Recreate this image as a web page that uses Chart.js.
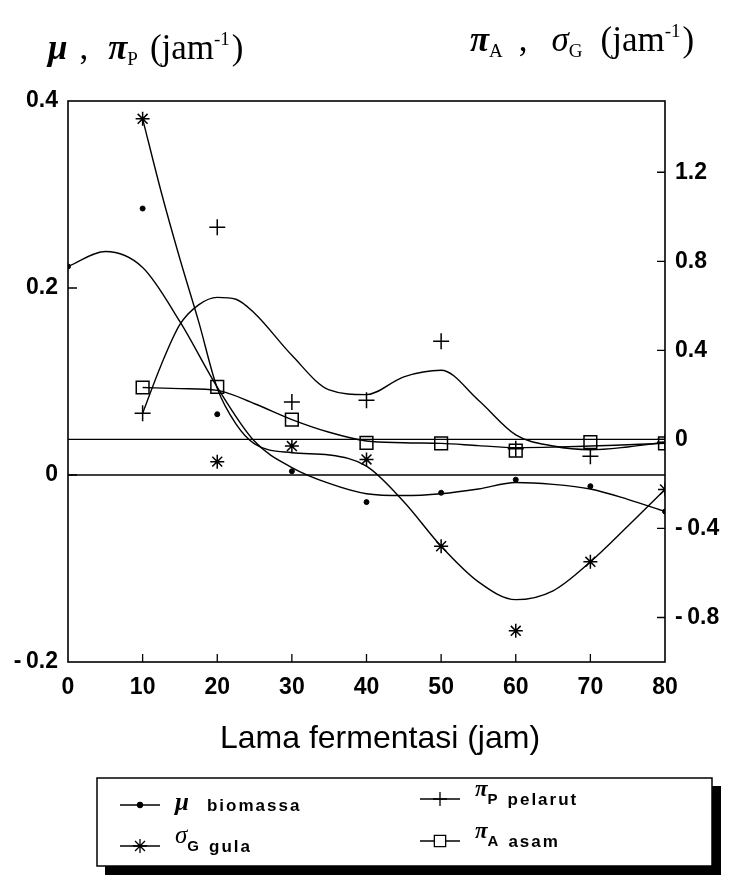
<!DOCTYPE html>
<html>
<head>
<meta charset="utf-8">
<script src="https://cdn.jsdelivr.net/npm/chart.js@4"></script>
<style>
body { margin: 0; background: #fff; }
canvas { display: block; }
</style>
</head>
<body>
<canvas id="myChart" width="736" height="884"></canvas>
<script>
// titik pengamatan
const waktu = [10, 20, 30, 40, 50, 60, 70, 80]
const waktuMu = [0, 10, 20, 30, 40, 50, 60, 70, 80]
const muBiomassa = [0.223, 0.285, 0.065, 0.004, -0.029, -0.019, -0.005, -0.012, -0.039]
const sigmaGula = [1.44, -0.10, -0.03, -0.09, -0.48, -0.86, -0.55, -0.225]
const piPelarut = [0.066, 0.265, 0.078, 0.080, 0.143, 0.028, 0.020, 0.035]
const piAsam = [0.233, 0.236, 0.089, -0.016, -0.018, -0.05, -0.012, -0.018]

// kurva hasil fitting
const kurvaMuX = [0, 5, 10, 15, 20, 25, 30, 35, 40, 45, 50, 55, 60, 65, 70, 75, 80]
const kurvaMu = [0.223, 0.239, 0.222, 0.164, 0.094, 0.036, 0.008, -0.009, -0.02, -0.022, -0.02, -0.015, -0.008, -0.01, -0.015, -0.026, -0.039]
const kurvaSigmaX = [10, 12.5, 15, 17.5, 20, 22.5, 25, 30, 35, 40, 45, 50, 55, 60, 65, 70, 75, 80]
const kurvaSigma = [1.44, 1.11, 0.81, 0.53, 0.23, 0.07, -0.02, -0.06, -0.07, -0.12, -0.28, -0.48, -0.64, -0.72, -0.68, -0.55, -0.39, -0.225]
const kurvaPelarutX = [10, 12.5, 15, 17.5, 20, 22.5, 25, 30, 35, 40, 45, 50, 55, 60, 65, 70, 75, 80]
const kurvaPelarut = [0.066, 0.118, 0.161, 0.182, 0.19, 0.188, 0.173, 0.128, 0.091, 0.086, 0.105, 0.112, 0.08, 0.043, 0.031, 0.027, 0.03, 0.035]
const kurvaAsamX = [10, 15, 20, 25, 30, 35, 40, 45, 50, 55, 60, 65, 70, 75, 80]
const kurvaAsam = [0.233, 0.228, 0.22, 0.16, 0.089, 0.032, -0.007, -0.015, -0.018, -0.028, -0.037, -0.035, -0.03, -0.024, -0.018]

const garisNolX = [0, 80]
const garisNol = [0, 0]

const xTicks = [0, 10, 20, 30, 40, 50, 60, 70, 80]
const leftTicks = [-0.2, 0, 0.2, 0.4]
const rightTicks = [-0.8, -0.4, 0, 0.4, 0.8, 1.2]

const toXY = (xs, ys) => xs.map((x, i) => ({ x: x, y: ys[i] }))
const fmt = v => v === 0 ? '0' : (v < 0 ? '-\u2009' + Math.abs(v).toFixed(1) : v.toFixed(1))

const tickFont = { family: 'Liberation Sans', size: 23, weight: 'bold' }

function titik(data, axis, style, r, bw) {
    return {
        data: data, yAxisID: axis, showLine: false,
        pointStyle: style, pointRadius: r, pointBorderWidth: bw,
        pointBackgroundColor: style === 'circle' ? '#000' : 'rgba(0,0,0,0)',
        pointBorderColor: '#000'
    }
}
function kurva(data, axis) {
    return {
        data: data, yAxisID: axis, showLine: true, pointRadius: 0,
        borderColor: '#000', borderWidth: 1.4, cubicInterpolationMode: 'monotone'
    }
}

// teks berurutan, tiap bagian bisa punya font, geser vertikal dan jarak tambahan
function tulis(ctx, x, y, parts) {
    parts.forEach(p => {
        x += p.gap || 0
        ctx.font = p.font
        ctx.fillText(p.t, x, y + (p.dy || 0))
        x += ctx.measureText(p.t).width
    })
}

const serif = '"Liberation Serif", serif'
const sans = '"Liberation Sans", sans-serif'

const hiasan = {
    id: 'hiasan',
    beforeDraw(chart) {
        const c = chart.ctx
        c.save()
        c.fillStyle = '#fff'
        c.fillRect(0, 0, chart.width, chart.height)
        c.restore()
    },
    afterDraw(chart) {
        const c = chart.ctx
        const a = chart.chartArea
        const sx = chart.scales.x, sy = chart.scales.y, sy1 = chart.scales.y1
        c.save()
        c.strokeStyle = '#000'
        c.fillStyle = '#000'
        c.lineWidth = 1.6
        c.strokeRect(a.left, a.top, a.right - a.left, a.bottom - a.top)

        // tick ke dalam
        c.lineWidth = 1.3
        c.beginPath()
        xTicks.slice(1, -1).forEach(v => {
            const px = sx.getPixelForValue(v)
            c.moveTo(px, a.bottom); c.lineTo(px, a.bottom - 8)
        })
        leftTicks.slice(1, -1).forEach(v => {
            const py = sy.getPixelForValue(v)
            c.moveTo(a.left, py); c.lineTo(a.left + 9, py)
        })
        rightTicks.forEach(v => {
            const py = sy1.getPixelForValue(v)
            c.moveTo(a.right, py); c.lineTo(a.right - 8, py)
        })
        c.stroke()

        // judul sumbu
        c.textBaseline = 'alphabetic'
        c.textAlign = 'left'
        tulis(c, 48, 59, [
            { t: 'μ', font: 'italic bold 35px ' + serif },
            { t: ',', font: '35px ' + serif, gap: 12 },
            { t: 'π', font: 'italic bold 35px ' + serif, gap: 20 },
            { t: 'P', font: '19px ' + serif, dy: 6 },
            { t: '(jam', font: '35px ' + serif, gap: 12 },
            { t: '-1', font: '19px ' + serif, dy: -14 },
            { t: ')', font: '35px ' + serif, gap: 2 }
        ])
        tulis(c, 470, 51, [
            { t: 'π', font: 'italic bold 35px ' + serif },
            { t: 'A', font: '19px ' + serif, dy: 6 },
            { t: ',', font: '35px ' + serif, gap: 16 },
            { t: 'σ', font: 'italic 35px ' + serif, gap: 24 },
            { t: 'G', font: '19px ' + serif, dy: 6 },
            { t: '(jam', font: '35px ' + serif, gap: 18 },
            { t: '-1', font: '19px ' + serif, dy: -14 },
            { t: ')', font: '35px ' + serif, gap: 2 }
        ])
        c.textAlign = 'center'
        c.font = '32px ' + sans
        c.fillText('Lama fermentasi (jam)', 380, 748)

        // legenda
        c.lineWidth = 1.5
        c.strokeRect(97, 778, 615, 88)
        c.fillRect(712, 786, 9, 89)
        c.fillRect(105, 866, 616, 9)

        const entri = [
            { x: 120, y: 805, style: 'circle', r: 2.5, sym: 'μ', sub: '', label: 'biomassa', italic: 'italic bold 25px ' },
            { x: 420, y: 799, style: 'cross', r: 7, sym: 'π', sub: 'P', label: 'pelarut', italic: 'italic bold 23px ' },
            { x: 120, y: 846, style: 'star', r: 7, sym: 'σ', sub: 'G', label: 'gula', italic: 'italic 25px ' },
            { x: 420, y: 841, style: 'rect', r: 8, sym: 'π', sub: 'A', label: 'asam', italic: 'italic bold 23px ' }
        ]
        entri.forEach(e => {
            c.lineWidth = 1.3
            c.beginPath()
            c.moveTo(e.x, e.y); c.lineTo(e.x + 40, e.y)
            c.stroke()
            c.fillStyle = e.style === 'circle' ? '#000' : '#fff'
            Chart.helpers.drawPoint(c, { pointStyle: e.style, radius: e.r, borderWidth: 1.3, rotation: 0 }, e.x + 20, e.y)
            c.fillStyle = '#000'
            c.textAlign = 'left'
            c.letterSpacing = '0px'
            c.font = e.italic + serif
            c.fillText(e.sym, e.x + 55, e.y + (e.sub ? -3 : 5))
            let tx = e.x + 55 + c.measureText(e.sym).width
            if (e.sub) {
                c.font = 'bold 15px ' + sans
                c.fillText(e.sub, tx, e.y + 5)
                tx += c.measureText(e.sub).width
            }
            c.letterSpacing = '2px'
            c.font = 'bold 17px ' + sans
            c.fillText(e.label, tx + (e.sub ? 10 : 18), e.y + 6)
        })
        c.restore()
    }
}

const ctx = document.getElementById('myChart').getContext('2d')

const myChart = new Chart(ctx, {
    type: 'scatter',
    data: {
        datasets: [
            titik(toXY(waktuMu, muBiomassa), 'y', 'circle', 2.5, 1),
            titik(toXY(waktu, sigmaGula), 'y1', 'star', 7, 1.5),
            titik(toXY(waktu, piPelarut), 'y', 'cross', 8, 1.5),
            titik(toXY(waktu, piAsam), 'y1', 'rect', 9, 1.5),
            kurva(toXY(kurvaMuX, kurvaMu), 'y'),
            kurva(toXY(kurvaSigmaX, kurvaSigma), 'y1'),
            kurva(toXY(kurvaPelarutX, kurvaPelarut), 'y'),
            kurva(toXY(kurvaAsamX, kurvaAsam), 'y1'),
            kurva(toXY(garisNolX, garisNol), 'y'),
            kurva(toXY(garisNolX, garisNol), 'y1')
        ]
    },
    options: {
        responsive: false,
        animation: false,
        layout: { padding: { top: 101, left: 0, right: 0, bottom: 0 } },
        plugins: {
            legend: { display: false },
            tooltip: { enabled: false }
        },
        scales: {
            x: {
                type: 'linear', min: 0, max: 80,
                grid: { display: false }, border: { display: false },
                afterBuildTicks: s => { s.ticks = xTicks.map(v => ({ value: v })) },
                afterFit: s => { s.height = 222 },
                ticks: { color: '#000', font: tickFont, padding: 4, maxRotation: 0 }
            },
            y: {
                position: 'left', min: -0.2, max: 0.4,
                grid: { display: false }, border: { display: false },
                afterBuildTicks: s => { s.ticks = leftTicks.map(v => ({ value: v })) },
                afterFit: s => { s.width = 68 },
                ticks: { color: '#000', font: tickFont, padding: 2, callback: fmt }
            },
            y1: {
                position: 'right', min: -1.0, max: 1.52,
                grid: { display: false }, border: { display: false },
                afterBuildTicks: s => { s.ticks = rightTicks.map(v => ({ value: v })) },
                afterFit: s => { s.width = 71 },
                ticks: { color: '#000', font: tickFont, padding: 2, callback: fmt }
            }
        }
    },
    plugins: [hiasan]
});
</script>
</body>
</html>
